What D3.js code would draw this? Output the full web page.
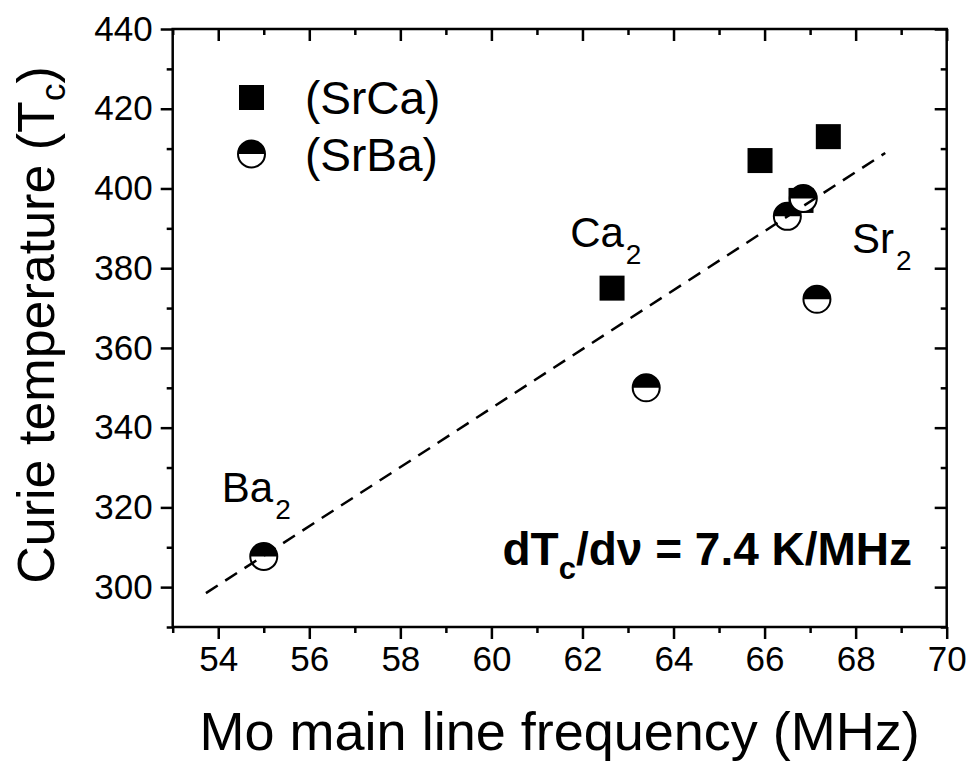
<!DOCTYPE html>
<html>
<head>
<meta charset="utf-8">
<script src="https://cdn.jsdelivr.net/npm/d3@7"></script>
<style>
  body { margin: 0; background: #fff; }
  text { font-family: "Liberation Sans", Arial, sans-serif; fill: #000; }
</style>
</head>
<body>
<div id="chart"></div>
<script>
// values
const srCaFreq = [62.65, 65.9, 66.8, 67.4];
const srCaTc = [375, 407, 397, 413];

const srBaFreq = [55.0, 63.4, 66.5, 66.85, 67.15];
const srBaTc = [307.7, 350, 393, 397.5, 372.2];

// dashed linear fit, dTc/dv = 7.4 K/MHz
const fitFreq = [53.73, 68.65];
const fitTc = [298.5, 408.9];

const xTickValues = [54, 56, 58, 60, 62, 64, 66, 68, 70];
const yTickValues = [300, 320, 340, 360, 380, 400, 420, 440];

const labels = [
  { name: "Ca", sub: "2", freq: 61.73, tc: 385.3 },
  { name: "Sr", sub: "2", freq: 67.92, tc: 383.8 },
  { name: "Ba", sub: "2", freq: 54.08, tc: 321.4 }
];

const width = 971;
const height = 764;
const margin = { left: 172.7, right: 971 - 946.7, top: 29, bottom: 764 - 627 };

const svg = d3.select("#chart")
  .append("svg")
  .attr("width", width)
  .attr("height", height);

const x = d3.scaleLinear()
  .domain([53, 70])
  .range([margin.left, width - margin.right]);

const y = d3.scaleLinear()
  .domain([290, 440])
  .range([height - margin.bottom, margin.top]);

const x0 = x.range()[0], x1 = x.range()[1];
const y0 = y.range()[0], y1 = y.range()[1];

// axes: left/bottom ticks outward, top/right inward
const minorX = d3.range(53, 71, 1).filter(v => !xTickValues.includes(v));
const minorY = d3.range(290, 441, 10).filter(v => !yTickValues.includes(v));

function styleAxis(g) {
  g.select(".domain").remove();
  g.selectAll("line").attr("stroke", "#000").attr("stroke-width", 2.5);
  g.selectAll("text").style("font-size", "35px");
}

svg.append("g")
  .attr("transform", `translate(0,${y0})`)
  .call(d3.axisBottom(x).tickValues(xTickValues).tickFormat(d3.format("d")).tickSize(12).tickPadding(7))
  .call(styleAxis);
svg.append("g")
  .attr("transform", `translate(0,${y0})`)
  .call(d3.axisBottom(x).tickValues(minorX).tickFormat("").tickSize(6))
  .call(styleAxis);

svg.append("g")
  .attr("transform", `translate(${x0},0)`)
  .call(d3.axisLeft(y).tickValues(yTickValues).tickFormat(d3.format("d")).tickSize(12).tickPadding(8))
  .call(styleAxis);
svg.append("g")
  .attr("transform", `translate(${x0},0)`)
  .call(d3.axisLeft(y).tickValues(minorY).tickFormat("").tickSize(6))
  .call(styleAxis);

svg.append("g")
  .attr("transform", `translate(0,${y1})`)
  .call(d3.axisTop(x).tickValues(xTickValues).tickFormat("").tickSize(-12))
  .call(styleAxis);
svg.append("g")
  .attr("transform", `translate(0,${y1})`)
  .call(d3.axisTop(x).tickValues(minorX).tickFormat("").tickSize(-6))
  .call(styleAxis);

svg.append("g")
  .attr("transform", `translate(${x1},0)`)
  .call(d3.axisRight(y).tickValues(yTickValues).tickFormat("").tickSize(-12))
  .call(styleAxis);
svg.append("g")
  .attr("transform", `translate(${x1},0)`)
  .call(d3.axisRight(y).tickValues(minorY).tickFormat("").tickSize(-6))
  .call(styleAxis);

// frame
svg.append("rect")
  .attr("x", x0).attr("y", y1)
  .attr("width", x1 - x0).attr("height", y0 - y1)
  .attr("fill", "none")
  .attr("stroke", "#000")
  .attr("stroke-width", 2.5);

// axis titles
svg.append("text")
  .attr("x", (x0 + x1) / 2)
  .attr("y", 750)
  .attr("text-anchor", "middle")
  .style("font-size", "54px")
  .text("Mo main line frequency (MHz)");

const yTitle = svg.append("text")
  .attr("transform", "translate(54,325) rotate(-90)")
  .attr("text-anchor", "middle")
  .style("font-size", "52px");
yTitle.append("tspan").text("Curie temperature (T");
yTitle.append("tspan").attr("dy", 11).style("font-size", "35px").text("c");
yTitle.append("tspan").attr("dy", -11).text(")");

// markers
const sq = 25;
const r = 13.5;

svg.append("g")
  .selectAll("rect")
  .data(srCaFreq.map((f, i) => [f, srCaTc[i]]))
  .join("rect")
  .attr("x", d => x(d[0]) - sq / 2)
  .attr("y", d => y(d[1]) - sq / 2)
  .attr("width", sq)
  .attr("height", sq)
  .attr("fill", "#000");

const halfArc = d3.arc()
  .innerRadius(0)
  .outerRadius(r)
  .startAngle(-Math.PI / 2)
  .endAngle(Math.PI / 2);

function halfCircle(sel) {
  sel.append("circle")
    .attr("r", r)
    .attr("fill", "#fff")
    .attr("stroke", "#000")
    .attr("stroke-width", 2);
  sel.append("path")
    .attr("d", halfArc)
    .attr("fill", "#000");
}

svg.append("g")
  .selectAll("g")
  .data(srBaFreq.map((f, i) => [f, srBaTc[i]]))
  .join("g")
  .attr("transform", d => `translate(${x(d[0])},${y(d[1])})`)
  .call(halfCircle);

// fit line
svg.append("path")
  .datum(fitFreq.map((f, i) => [f, fitTc[i]]))
  .attr("d", d3.line().x(d => x(d[0])).y(d => y(d[1])))
  .attr("fill", "none")
  .attr("stroke", "#000")
  .attr("stroke-width", 2.5)
  .attr("stroke-dasharray", "14,9");

// compound labels
labels.forEach(l => {
  const t = svg.append("text")
    .attr("x", x(l.freq))
    .attr("y", y(l.tc))
    .style("font-size", "42px");
  t.append("tspan").text(l.name);
  t.append("tspan").attr("dx", 2).attr("dy", 17).style("font-size", "28px").text(l.sub);
});

// slope annotation
const slope = svg.append("text")
  .attr("x", x(69.24))
  .attr("y", y(305.6))
  .attr("text-anchor", "end")
  .style("font-size", "46px")
  .style("font-weight", "bold");
slope.append("tspan").text("dT");
slope.append("tspan").attr("dy", 14).style("font-size", "31px").text("c");
slope.append("tspan").attr("dy", -14).text("/d\u03bd = 7.4 K/MHz");

// legend
const legend = svg.append("g");
legend.append("rect")
  .attr("x", 251.5 - sq / 2)
  .attr("y", 97.5 - sq / 2)
  .attr("width", sq)
  .attr("height", sq)
  .attr("fill", "#000");
legend.append("g")
  .attr("transform", "translate(251.5,154)")
  .call(halfCircle);
legend.append("text")
  .attr("x", 305).attr("y", 114)
  .style("font-size", "46px")
  .text("(SrCa)");
legend.append("text")
  .attr("x", 305).attr("y", 171)
  .style("font-size", "46px")
  .text("(SrBa)");
</script>
</body>
</html>
